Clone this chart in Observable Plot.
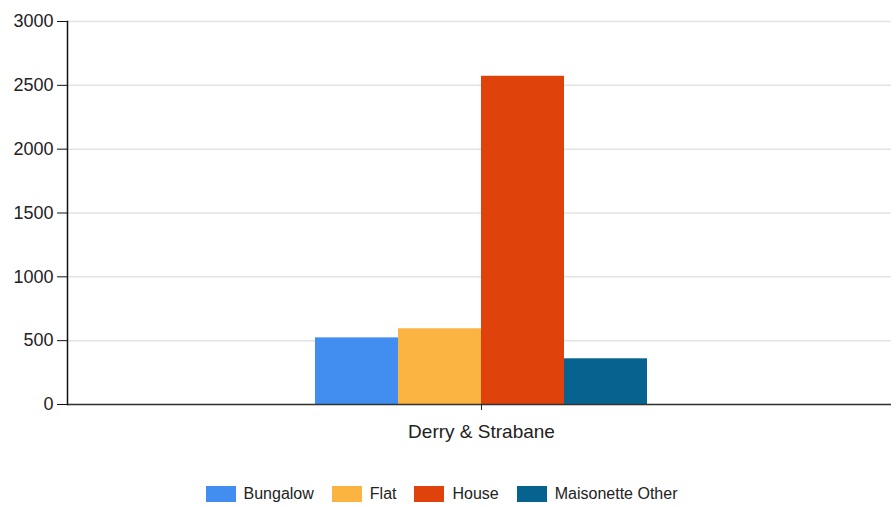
<!DOCTYPE html>
<html>
<head>
<meta charset="utf-8">
<script src="https://cdn.jsdelivr.net/npm/d3@7"></script>
<script src="https://cdn.jsdelivr.net/npm/@observablehq/plot@0.6"></script>
<style>
  body { margin: 0; background: #fff; font-family: "Liberation Sans", Arial, sans-serif; overflow: hidden; }
  #legend { display: flex; justify-content: center; align-items: center; gap: 18px; margin-top: 15px; font-size: 16px; color: #222; padding-right: 8px; }
  .item { display: flex; align-items: center; gap: 8px; }
  .sw { width: 30px; height: 16px; }
</style>
</head>
<body>
<div id="chart"></div>
<div id="legend"></div>
<script>
const categories = ["Derry & Strabane"];
const types = ["Bungalow", "Flat", "House", "Maisonette Other"];
const values = [522, 593, 2571, 358];
const colors = ["#428ef0", "#fbb341", "#e0420c", "#06638f"];
const yTicks = [0, 500, 1000, 1500, 2000, 2500, 3000];

const data = types.map((t, i) => ({category: categories[0], type: t, value: values[i]}));

const chart = Plot.plot({
  width: 891,
  height: 470,
  marginLeft: 67,
  marginRight: -4,
  marginTop: 21,
  marginBottom: 66,
  style: {fontFamily: "'Liberation Sans', Arial, sans-serif", fontSize: "17px", color: "#222", overflow: "hidden"},
  fx: {domain: categories, padding: 0, label: null},
  x: {domain: types, paddingInner: 0, paddingOuter: 2.96, axis: null},
  y: {domain: [0, 3000], label: null},
  color: {domain: types, range: colors},
  marks: [
    Plot.gridY(yTicks, {stroke: "#e3e3e3", strokeOpacity: 1, strokeWidth: 1.5}),
    Plot.barY(data, {fx: "category", x: "type", y: "value", fill: "type", inset: 0}),
    Plot.ruleY([0], {stroke: "#333", strokeWidth: 1.5}),
    Plot.frame({anchor: "left", stroke: "#111", strokeWidth: 1.5}),
    Plot.axisY({ticks: yTicks, tickFormat: d => String(d), tickSize: 10, tickPadding: 4, label: null, fontSize: 18, stroke: "#111"}),
    Plot.axisFx({anchor: "bottom", tickSize: 6, tickPadding: 14, label: null, fontSize: 19})
  ]
});
document.getElementById("chart").appendChild(chart);

const legend = document.getElementById("legend");
types.forEach((t, i) => {
  const it = document.createElement("div");
  it.className = "item";
  const sw = document.createElement("div");
  sw.className = "sw";
  sw.style.background = colors[i];
  const lb = document.createElement("span");
  lb.textContent = t;
  it.appendChild(sw);
  it.appendChild(lb);
  legend.appendChild(it);
});
</script>
</body>
</html>
